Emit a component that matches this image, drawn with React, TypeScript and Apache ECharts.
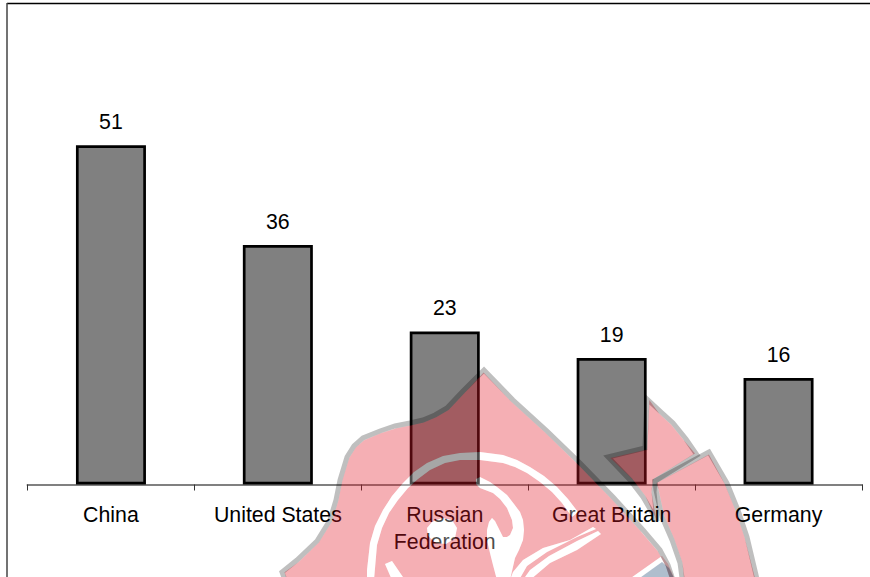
import React, { useEffect, useRef } from "react";
import * as echarts from "echarts";

const categories = ["China", "United States", "Russian\nFederation", "Great Britain", "Germany"];
const medals = [51, 36, 23, 19, 16];

type Pt = [number, number];

// Decorative watermark contours (centre of the grey band), page pixels
const bodyOutline: Pt[] = [
  [292, 600], [282, 572], [297, 560], [317, 541], [330, 520], [336, 500], [340, 480], [347, 457], [354, 446], [363, 438],
  [380, 431], [395, 426], [410, 423], [423, 420], [435, 415], [447, 408], [463, 391], [484, 370], [513, 400], [547, 431],
  [580, 463], [613, 497], [643, 530], [660, 550], [668, 565], [673, 580], [680, 600],
];
const arrowOutline: Pt[] = [
  [647, 399], [661, 412], [673, 423], [686, 439], [697, 455], [655, 481], [654, 492], [657, 521], [643, 497], [630, 480], [608, 457], [645, 448],
];
const bandOutline: Pt[] = [
  [709, 452], [655, 481], [656, 490], [662, 517], [672, 540], [680, 563], [685, 600], [762, 600], [747, 537], [738, 510], [727, 483],
];
const arcHole: Pt[] = [
  [367, 580], [367, 570], [370, 543], [375, 526], [383, 510], [392, 496], [403, 483], [414, 472], [427, 463], [443, 456], [460, 453], [480, 452],
  [503, 455], [517, 460], [530, 467], [544, 476], [557, 487], [568, 499], [578, 512], [572, 517], [562, 503], [552, 492], [540, 482], [527, 473],
  [515, 467], [503, 463], [480, 460], [460, 460], [445, 463], [430, 470], [418, 479], [408, 488], [398, 500], [389, 513], [382, 528], [377, 545], [374, 580],
];
const swirlHole: Pt[] = [
  [476, 479], [480, 477], [490, 482], [497, 487], [507, 495], [514, 504], [520, 512], [523, 520], [524, 530], [523, 540], [519, 550], [515, 558],
  [510, 580], [497, 580], [493, 565], [490, 553], [487, 540], [487, 530], [489, 522], [492, 518], [495, 521], [498, 527], [503, 537], [507, 537], [510, 535],
  [513, 528], [512, 520], [507, 508], [500, 499], [493, 493], [480, 488], [476, 484],
];
const dotHole: Pt[] = [[432, 522], [442, 518], [452, 520], [457, 528], [455, 538], [446, 544], [436, 543], [428, 536], [427, 528]];
const tipHole: Pt[] = [[385, 564], [392, 561], [405, 580], [392, 580]];
const ribbonAHole: Pt[] = [[593, 527], [570, 540], [543, 548], [523, 560], [513, 572], [510, 580], [519, 580], [527, 566], [547, 552], [577, 537], [596, 529]];
const ribbonBHole: Pt[] = [[598, 531], [577, 541], [549, 556], [530, 570], [523, 580], [530, 580], [550, 563], [577, 550], [601, 534]];
const seamHole: Pt[] = [[662, 556], [628, 580], [675, 580], [668, 564]];
const blueShape: Pt[] = [[662, 562], [637, 580], [675, 580], [669, 568]];

const GREY_W = 5;

function area(p: Pt[]) {
  let a = 0;
  p.forEach((q, i) => {
    const r = p[(i + 1) % p.length];
    a += q[0] * r[1] - r[0] * q[1];
  });
  return a / 2;
}
function inset(p: Pt[], d: number): Pt[] {
  const s = area(p) > 0 ? 1 : -1;
  return p.map((q, i) => {
    const a = p[(i - 1 + p.length) % p.length];
    const b = p[(i + 1) % p.length];
    const dx = b[0] - a[0];
    const dy = b[1] - a[1];
    const l = Math.hypot(dx, dy) || 1;
    return [q[0] - (s * dy * d) / l, q[1] + (s * dx * d) / l] as Pt;
  });
}
function oriented(p: Pt[], positive: boolean) {
  return area(p) > 0 === positive ? p : [...p].reverse();
}
function d(p: Pt[]) {
  return "M" + p.map((q) => `${q[0].toFixed(1)} ${q[1].toFixed(1)}`).join("L") + "Z";
}

const holes = [arcHole, swirlHole, dotHole, tipHole, ribbonAHole, ribbonBHole, seamHole];
const pinkD =
  d(oriented(inset(bodyOutline, GREY_W / 2), true)) +
  holes.map((h) => d(oriented(h, false))).join("") +
  d(oriented(inset(arrowOutline, GREY_W / 2), true)) +
  d(oriented(inset(bandOutline, GREY_W / 2), true));

echarts.graphic.registerShape("wmPink", echarts.graphic.extendPath(pinkD, {}) as any);
const holesD = holes.map((h) => d(oriented(h, true))).join("");
echarts.graphic.registerShape("wmHoles", echarts.graphic.extendPath(holesD, {}) as any);

const outlineStyle = { fill: "none", stroke: "rgba(0,0,0,0.25)", lineWidth: GREY_W, lineJoin: "miter" };

export default function App() {
  const ref = useRef<HTMLDivElement>(null);
  useEffect(() => {
    const chart = echarts.init(ref.current!, null, { renderer: "svg" });
    chart.setOption({
      animation: false,
      backgroundColor: "#ffffff",
      textStyle: { fontFamily: "Liberation Sans" },
      grid: { left: 27.5, right: 8, top: 85.4, bottom: 92.5, containLabel: false },
      xAxis: {
        type: "category",
        data: categories,
        axisLine: { show: true, lineStyle: { color: "#808080", width: 2 } },
        axisTick: { show: true, alignWithLabel: false, length: 6, lineStyle: { color: "#333333", width: 1 } },
        axisLabel: {
          interval: 0,
          color: "#000000",
          fontFamily: "Liberation Sans",
          fontSize: 21.3,
          lineHeight: 27,
          margin: 16.5,
          hideOverlap: false,
        },
        splitLine: { show: false },
      },
      yAxis: { type: "value", min: 0, max: 60, show: false, splitLine: { show: false } },
      series: [
        {
          type: "bar",
          data: medals,
          barWidth: 70,
          itemStyle: { color: "#808080", borderColor: "#000000", borderWidth: 2.7 },
          label: {
            show: true,
            position: "top",
            distance: 13,
            color: "#000000",
            fontFamily: "Liberation Sans",
            fontSize: 21.3,
          },
        },
      ],
      graphic: [
        { type: "line", silent: true, shape: { x1: 7, y1: 3.5, x2: 870, y2: 3.5 }, style: { stroke: "#000000", lineWidth: 1.5 } },
        { type: "line", silent: true, shape: { x1: 7, y1: 3, x2: 7, y2: 577 }, style: { stroke: "#444444", lineWidth: 1.5 } },
        { type: "wmPink", silent: true, z: 100, style: { fill: "rgba(226,26,40,0.35)" } },
        { type: "wmHoles", silent: true, z: 100, style: { fill: "rgba(255,255,255,0.3)" } },
        { type: "polygon", silent: true, z: 101, shape: { points: bodyOutline }, style: outlineStyle },
        { type: "polygon", silent: true, z: 101, shape: { points: arrowOutline }, style: outlineStyle },
        { type: "polygon", silent: true, z: 101, shape: { points: bandOutline }, style: outlineStyle },
        { type: "polygon", silent: true, z: 100, shape: { points: blueShape }, style: { fill: "rgba(26,69,112,0.35)" } },
      ],
    });
    return () => chart.dispose();
  }, []);
  return <div ref={ref} style={{ position: "absolute", left: 0, top: 0, width: 870, height: 577, overflow: "hidden" }} />;
}
